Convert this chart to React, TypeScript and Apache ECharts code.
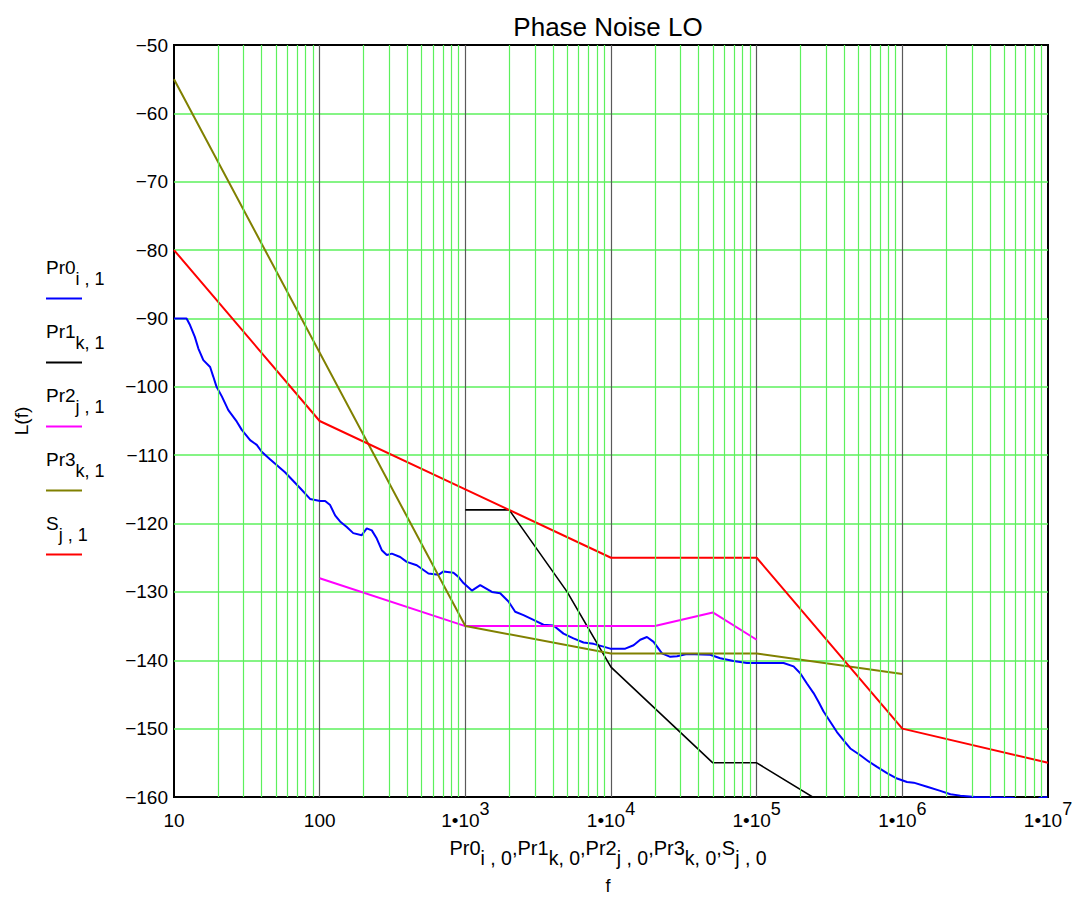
import React, { useEffect, useRef } from 'react';
import * as echarts from 'echarts';

const FONT = 'Liberation Sans, Arial, Helvetica, sans-serif';

const X_MIN = 10;
const X_MAX = 1e7;
const Y_MIN = -160;
const Y_MAX = -50;
const Y_STEP = 10;

// minor grid positions (2..9 within each decade)
const DECADES = [10, 100, 1e3, 1e4, 1e5, 1e6];
const MINOR_MULTS = [2, 3, 4, 5, 6, 7, 8, 9];

// Pr0 : measured phase noise (blue)
const pr0: [number, number][] = [
  [10, -90], [12.2, -90], [12.9, -91], [13.9, -92.7], [14.7, -94.4], [15.9, -96.1],
  [17.7, -97.1], [18.6, -98.5], [19.6, -100], [21.3, -101.4], [23.6, -103.4], [27, -105.1],
  [29.2, -106.3], [33.3, -107.8], [37, -108.5], [40, -109.5], [45.6, -110.6], [57.8, -112.5],
  [73.3, -114.8], [85.9, -116.4], [100.7, -116.7], [109, -116.7], [118, -117.3], [127.6, -118.8],
  [138, -119.7], [153.5, -120.5], [170, -121.4], [194.5, -121.7], [210.5, -120.7], [228, -121],
  [246.6, -122.2], [267, -123.9], [289, -124.6], [313, -124.4], [357, -124.9], [396, -125.6],
  [464, -126.1], [558, -127.3], [654, -127.5], [708, -127], [829, -127.2], [897, -127.8],
  [971, -128.7], [1109, -129.8], [1265, -129], [1522, -130], [1735, -130.2], [1978, -131.4],
  [2199, -132.9], [2507, -133.4], [2937, -134.1], [3438, -134.8], [4027, -134.9], [4719, -136.1],
  [5525, -136.8], [6472, -137.4], [7580, -137.6], [8875, -138], [9880, -138.3], [12530, -138.3],
  [14290, -137.8], [15880, -137], [17650, -136.6], [19600, -137.3], [22380, -139], [25520, -139.5],
  [28380, -139.4], [33200, -139.1], [47980, -139.2], [56200, -139.7], [69350, -140.1], [85700, -140.4],
  [153000, -140.4], [179200, -140.9], [199100, -141.9], [221300, -143.4], [245900, -144.8],
  [266300, -146.1], [287900, -147.5], [320000, -149], [355700, -150.5], [395200, -151.7],
  [439400, -152.9], [514700, -153.9], [587000, -154.8], [670300, -155.6], [785000, -156.5],
  [919900, -157.3], [1077000, -157.8], [1197000, -157.9], [1479000, -158.5], [1824000, -159.1],
  [2138000, -159.6], [2502000, -159.8], [3170000, -160], [5690000, -160.1], [6460000, -160.5],
  [8180000, -160.5], [8870000, -160.1], [9900000, -160],
];

// Pr1 (black)
const pr1: [number, number][] = [
  [1000, -118], [2000, -118], [5000, -130], [1e4, -141], [5e4, -155], [1e5, -155], [1e6, -168],
];

// Pr2 (magenta)
const pr2: [number, number][] = [
  [100, -128], [1000, -135], [2e4, -135], [5e4, -133], [1e5, -137],
];

// Pr3 (olive)
const pr3: [number, number][] = [
  [10, -55], [1000, -135], [1e4, -139], [1e5, -139], [1e6, -142],
];

// S (red)
const sMask: [number, number][] = [
  [10, -80], [100, -105], [1000, -115], [1e4, -125], [1e5, -125], [1e6, -150], [1e7, -155],
];

const LEGEND = [
  { name: 'Pr0', sub: 'i , 1', color: '#0000ff' },
  { name: 'Pr1', sub: 'k, 1', color: '#000000' },
  { name: 'Pr2', sub: 'j , 1', color: '#ff00ff' },
  { name: 'Pr3', sub: 'k, 1', color: '#808000' },
  { name: 'S', sub: 'j , 1', color: '#ff0000' },
];

const GREEN = '#5cf05c';

export default function App() {
  const ref = useRef<HTMLDivElement>(null);

  useEffect(() => {
    document.body.style.margin = '0';
    const chart = echarts.init(ref.current!, null, { renderer: 'svg' });

    const minorLines: { xAxis: number }[] = [];
    DECADES.forEach((d) => MINOR_MULTS.forEach((m) => minorLines.push({ xAxis: d * m })));

    const lineSeries = (name: string, data: [number, number][], color: string, width = 2) => ({
      name,
      type: 'line',
      data,
      symbol: 'none',
      showSymbol: false,
      clip: true,
      z: 3,
      lineStyle: { color, width },
      emphasis: { disabled: true },
      silent: true,
    });

    const legendGraphics: any[] = [];
    LEGEND.forEach((l, i) => {
      const ly = 298.5 + 64 * i;
      legendGraphics.push({
        type: 'line',
        shape: { x1: 46, y1: ly, x2: 82, y2: ly },
        style: { stroke: l.color, lineWidth: 2 },
        silent: true,
      });
      legendGraphics.push({
        type: 'text',
        x: 46,
        y: ly - 51,
        silent: true,
        style: {
          text: `{m|${l.name}}{s|${l.sub}}`,
          align: 'left',
          verticalAlign: 'top',
          textAlign: 'left',
          textVerticalAlign: 'top',
          rich: {
            m: { fontSize: 19, lineHeight: 40, verticalAlign: 'middle', fontFamily: FONT, fill: '#000', color: '#000' },
            s: { fontSize: 18, lineHeight: 14, verticalAlign: 'bottom', fontFamily: FONT, fill: '#000', color: '#000' },
          },
        },
      });
    });

    const option: any = {
      animation: false,
      backgroundColor: '#ffffff',
      grid: {
        left: 174,
        top: 45,
        right: 29,
        bottom: 101,
        containLabel: false,
        outerBoundsMode: 'none',
        show: true,
        borderColor: '#000',
        borderWidth: 2,
        backgroundColor: 'transparent',
      },
      xAxis: {
        type: 'log',
        logBase: 10,
        min: X_MIN,
        max: X_MAX,
        axisLine: { show: false },
        axisTick: { show: false },
        splitLine: { show: true, showMinLine: false, showMaxLine: false, lineStyle: { color: '#5a5a5a', width: 1.2 } },
        axisLabel: {
          margin: 3,
          formatter: (v: number) => {
            const e = Math.round(Math.log10(v));
            return e <= 2 ? `{b|${Math.round(v)}}` : `{b|1•10}{p|${e}}`;
          },
          rich: {
            b: { fontSize: 19, lineHeight: 40, verticalAlign: 'middle', color: '#000', fontFamily: FONT },
            p: { fontSize: 18, lineHeight: 14, verticalAlign: 'top', color: '#000', fontFamily: FONT },
          },
        },
      },
      yAxis: {
        type: 'value',
        min: Y_MIN,
        max: Y_MAX,
        interval: Y_STEP,
        name: 'L(f)',
        nameLocation: 'middle',
        nameGap: 143,
        nameTextStyle: { fontSize: 19, color: '#000', fontFamily: FONT },
        axisLine: { show: false },
        axisTick: { show: false },
        splitLine: { show: true, showMinLine: false, showMaxLine: false, lineStyle: { color: GREEN, width: 1.5 } },
        axisLabel: {
          margin: 6,
          fontSize: 19,
          color: '#000',
          fontFamily: FONT,
          formatter: (v: number) => String(v).replace('-', '\u2212'),
        },
      },
      series: [
        {
          name: 'minorGrid',
          type: 'line',
          data: [[X_MIN, Y_MAX]],
          symbol: 'none',
          lineStyle: { opacity: 0 },
          silent: true,
          z: 1,
          markLine: {
            silent: true,
            symbol: ['none', 'none'],
            label: { show: false },
            emphasis: { disabled: true },
            lineStyle: { color: GREEN, width: 1.2, type: 'solid' },
            data: minorLines,
          },
        },
        lineSeries('Pr0', pr0, '#0000ff', 2),
        lineSeries('Pr1', pr1, '#000000', 1.6),
        lineSeries('Pr2', pr2, '#ff00ff', 2),
        lineSeries('Pr3', pr3, '#808000', 2),
        lineSeries('S', sMask, '#ff0000', 2),
      ],
      graphic: [
        {
          type: 'text',
          x: 608,
          y: 27,
          silent: true,
          style: {
            text: 'Phase Noise LO',
            fontSize: 26,
            fontFamily: FONT,
            fill: '#000',
            align: 'center',
            verticalAlign: 'middle',
            textAlign: 'center',
            textVerticalAlign: 'middle',
          },
        },
        {
          type: 'text',
          x: 608,
          y: 828,
          silent: true,
          style: {
            text: '{m|Pr0}{s|i , 0}{m|,Pr1}{s|k, 0}{m|,Pr2}{s|j , 0}{m|,Pr3}{s|k, 0}{m|,S}{s|j , 0}',
            align: 'center',
            verticalAlign: 'top',
            textAlign: 'center',
            textVerticalAlign: 'top',
            rich: {
              m: { fontSize: 20, lineHeight: 40, verticalAlign: 'middle', fontFamily: FONT, fill: '#000', color: '#000' },
              s: { fontSize: 19.5, lineHeight: 14, verticalAlign: 'bottom', fontFamily: FONT, fill: '#000', color: '#000' },
            },
          },
        },
        {
          type: 'text',
          x: 608,
          y: 886,
          silent: true,
          style: {
            text: 'f',
            fontSize: 18,
            fontFamily: FONT,
            fill: '#000',
            align: 'center',
            verticalAlign: 'middle',
            textAlign: 'center',
            textVerticalAlign: 'middle',
          },
        },
        ...legendGraphics,
      ],
    };

    chart.setOption(option);
    return () => chart.dispose();
  }, []);

  return <div ref={ref} style={{ width: 1077, height: 898 }} />;
}
